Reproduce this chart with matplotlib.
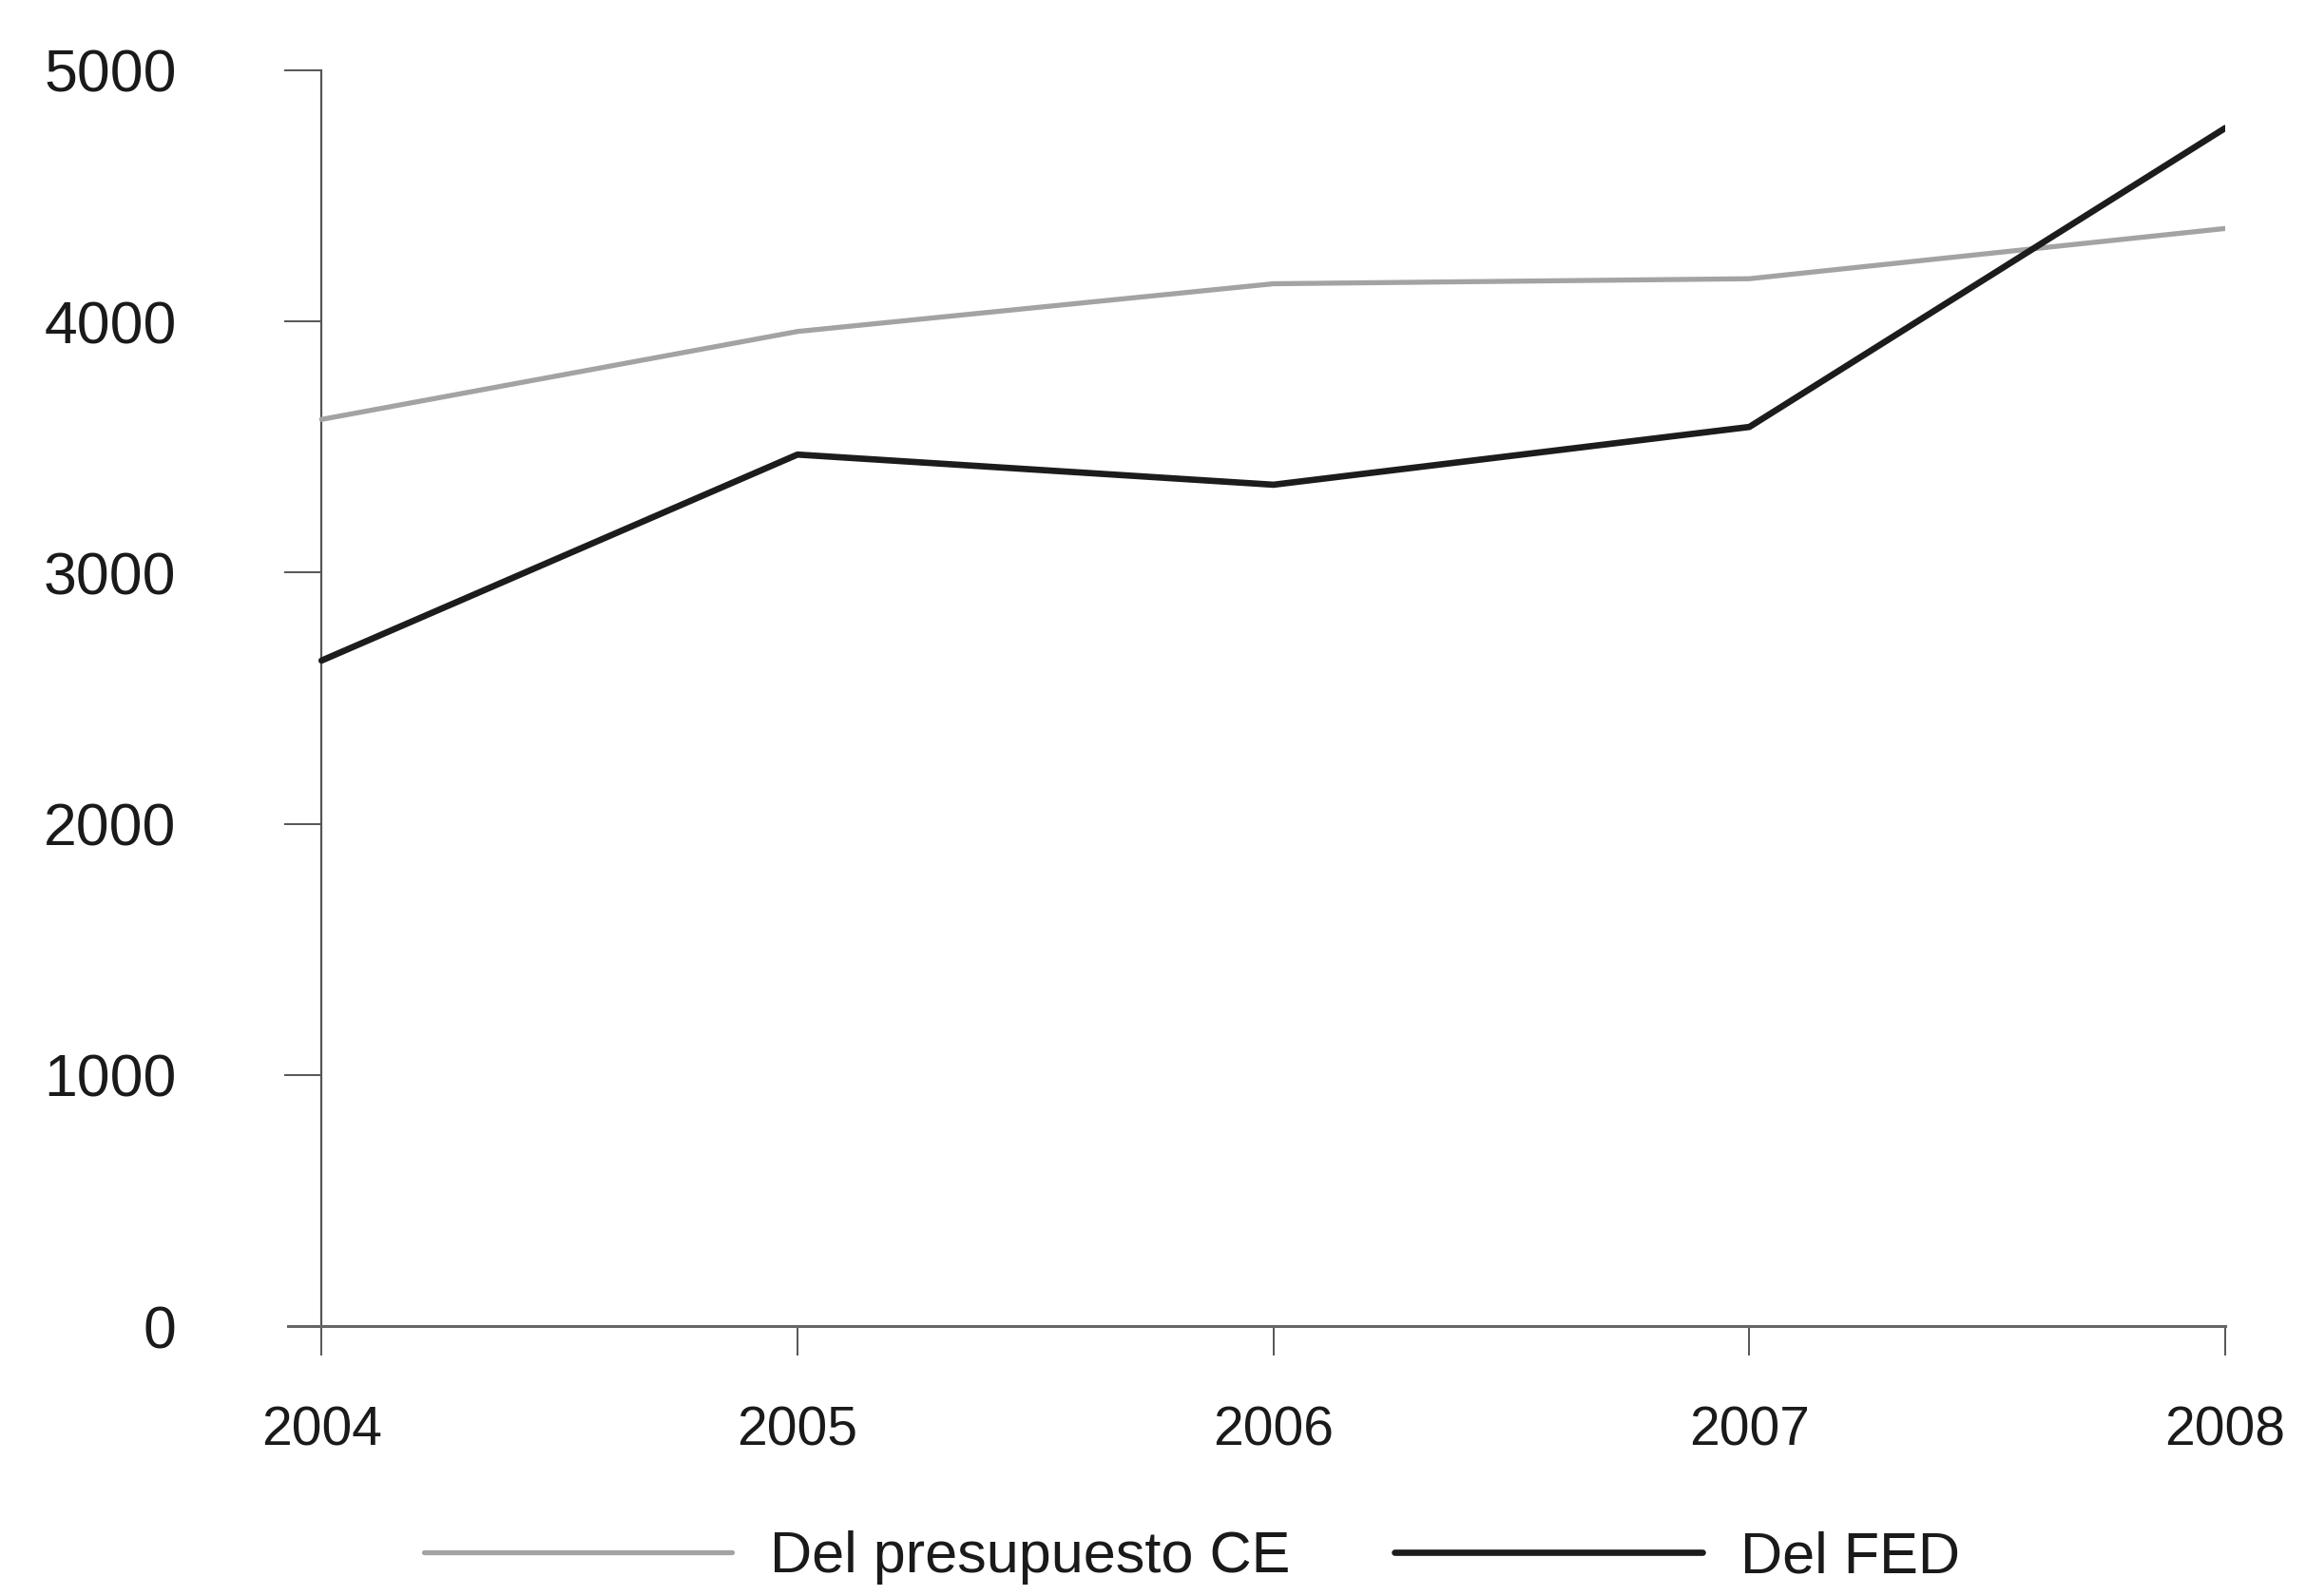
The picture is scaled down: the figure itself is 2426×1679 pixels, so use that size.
import matplotlib.pyplot as plt

# Data
years = [2004, 2005, 2006, 2007, 2008]
presupuesto_ce = [3610, 3960, 4150, 4170, 4370]
fed = [2650, 3470, 3350, 3580, 4770]
y_ticks = [0, 1000, 2000, 3000, 4000, 5000]

plt.rcParams['font.family'] = ['Liberation Sans', 'DejaVu Sans']

fig = plt.figure(figsize=(24.26, 16.79), dpi=100)
ax = fig.add_axes([0.125, 0.169, 0.840, 0.787])

ax.plot(years, presupuesto_ce, color='#a3a3a3', lw=3.8, solid_capstyle='round',
        label='Del presupuesto CE', zorder=3)
ax.plot(years, fed, color='#1c1c1c', lw=4.8, solid_capstyle='round',
        label='Del FED', zorder=4)

# Axes look
ax.set_xlim(2003.93, 2008)
ax.set_ylim(0, 5000)
for s in ['top', 'right']:
    ax.spines[s].set_visible(False)
ax.spines['left'].set_position(('data', 2004))
ax.spines['left'].set_color('#555555')
ax.spines['bottom'].set_color('#666666')
ax.spines['left'].set_linewidth(1.6)
ax.spines['bottom'].set_linewidth(2.2)

ax.set_xticks(years)
ax.set_yticks(y_ticks)
ax.set_yticklabels([str(v) for v in y_ticks])
ax.tick_params(axis='x', direction='out', length=22, width=1.4, color='#555555',
               pad=38, labelsize=41, labelcolor='#1a1a1a')
ax.tick_params(axis='y', direction='out', length=28, width=1.4, color='#555555',
               pad=82, labelsize=45, labelcolor='#1a1a1a')
ax.yaxis.get_major_ticks()[0].tick1line.set_visible(False)

fig.legend(loc='center', bbox_to_anchor=(0.517, 0.024), ncol=2, frameon=False,
           fontsize=44, handlelength=5.3, handletextpad=0.65, columnspacing=1.8,
           labelcolor='#1a1a1a', borderpad=0.2)

fig.savefig('out.png', dpi=100, facecolor='white')
